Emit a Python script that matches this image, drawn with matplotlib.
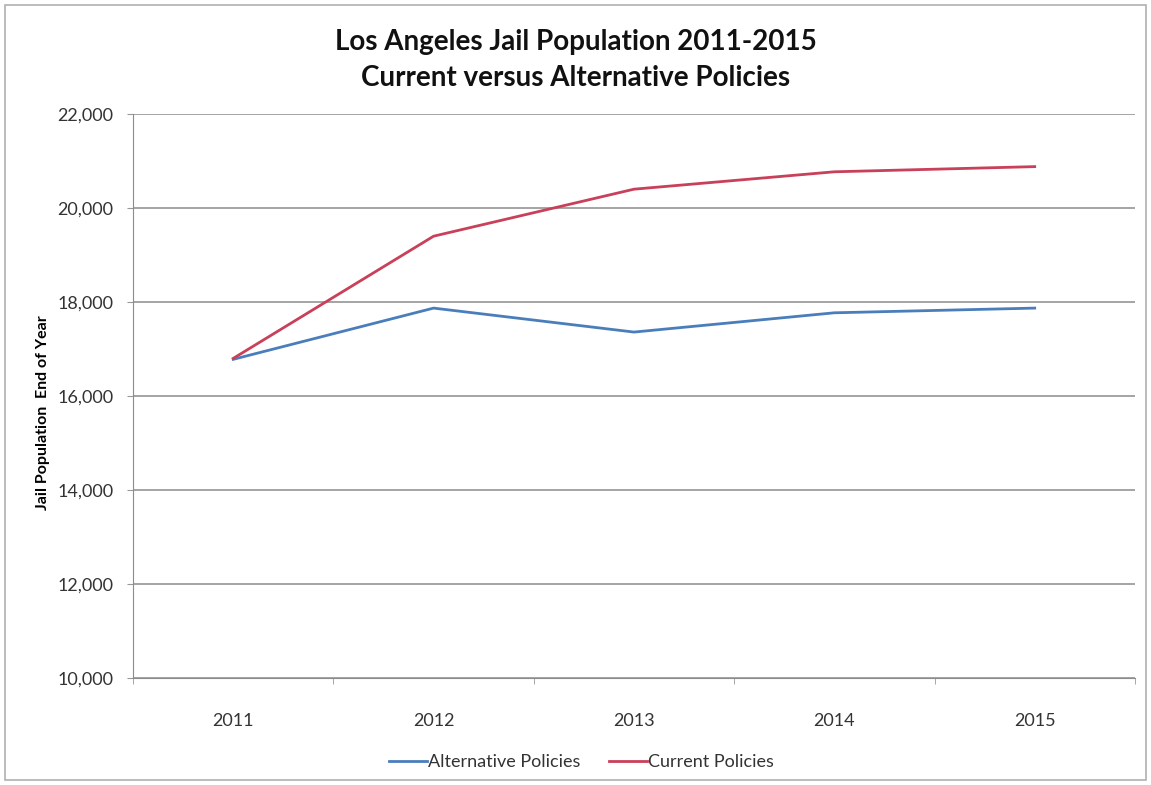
import matplotlib
matplotlib.use("Agg")
import matplotlib.pyplot as plt
from matplotlib.ticker import FuncFormatter, FixedLocator
from matplotlib.patches import Rectangle

years = ["2011", "2012", "2013", "2014", "2015"]
alternative = [16780, 17870, 17360, 17770, 17870]
current = [16800, 19400, 20400, 20770, 20880]

plt.rcParams['font.family'] = ['Lato', 'DejaVu Sans']

fig = plt.figure(figsize=(11.51, 7.85), dpi=100)
fig.patch.set_facecolor('white')
fig.add_artist(Rectangle((0.004, 0.006), 0.992, 0.988, transform=fig.transFigure,
                         fill=False, edgecolor='#b0b0b0', linewidth=1.2))

ax = fig.add_axes([0.1156, 0.1363, 0.8704, 0.7185])
x = list(range(len(years)))
ax.plot(x, alternative, color='#4A7EBB', linewidth=2.0, label='Alternative Policies')
ax.plot(x, current, color='#C8405A', linewidth=2.0, label='Current Policies')

ax.set_xlim(-0.5, len(years) - 0.5)
ax.set_ylim(10000, 22000)
ax.set_yticks(range(10000, 22001, 2000))
ax.yaxis.set_major_formatter(FuncFormatter(lambda v, p: f"{int(v):,}"))
ax.set_xticks(x)
ax.set_xticklabels(years)
ax.xaxis.set_minor_locator(FixedLocator([i + 0.5 for i in range(-1, len(years))]))
ax.tick_params(axis='x', which='major', length=0, pad=25, labelsize=13, colors='#333333')
ax.tick_params(axis='x', which='minor', length=4, color='#999999', direction='out')
ax.tick_params(axis='y', length=4, color='#999999', labelsize=13, colors='#333333', pad=10)
ax.grid(axis='y', color='#8c8c8c', linewidth=1.1)
ax.set_axisbelow(True)
for s in ['top', 'right']:
    ax.spines[s].set_visible(False)
ax.spines['left'].set_color('#8c8c8c')
ax.spines['bottom'].set_color('#8c8c8c')

ax.set_ylabel('Jail Population  End of Year', fontsize=11.5, fontweight='bold', labelpad=14)
ax.yaxis.set_label_coords(-0.083, 0.47)

fig.text(0.5, 0.946, 'Los Angeles Jail Population 2011-2015', ha='center', va='center',
         fontsize=20, fontweight='bold', color='#111111')
fig.text(0.5, 0.901, 'Current versus Alternative Policies', ha='center', va='center',
         fontsize=20, fontweight='bold', color='#111111')

leg = fig.legend(loc='center', bbox_to_anchor=(0.505, 0.029), ncol=2, frameon=False,
                 fontsize=13, handlelength=2.1, handletextpad=0.05, columnspacing=1.6)
for t in leg.get_texts():
    t.set_color('#333333')

fig.savefig('out.png', dpi=100, facecolor='white')
